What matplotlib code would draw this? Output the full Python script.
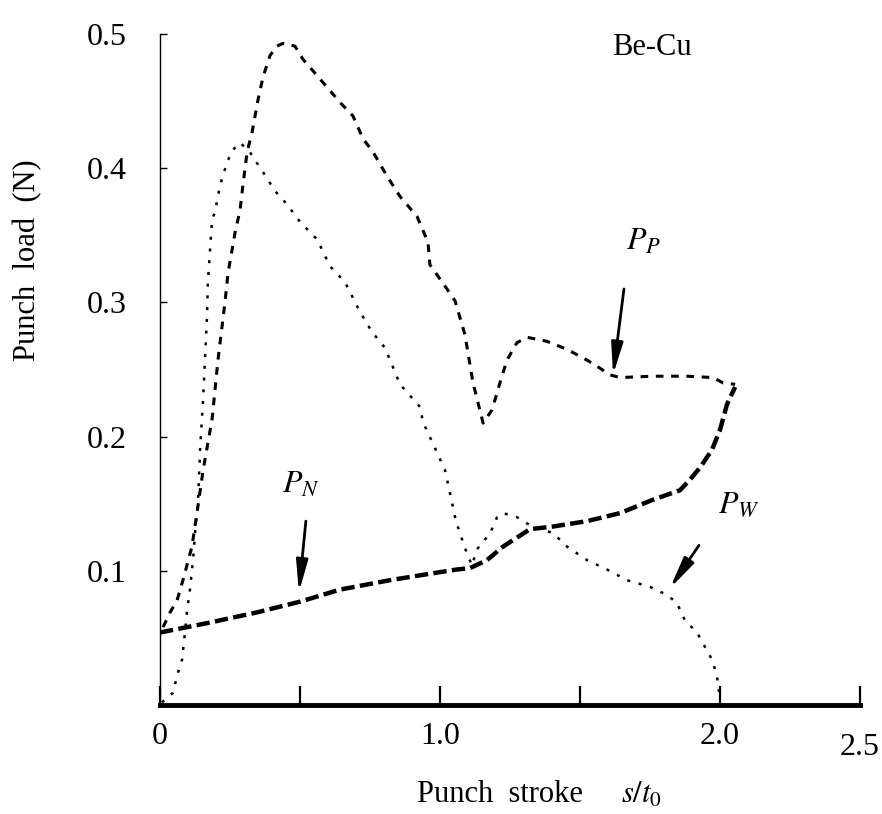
import numpy as np
import matplotlib.pyplot as plt
from matplotlib.transforms import ScaledTranslation

plt.rcParams['font.family'] = ['Liberation Serif', 'DejaVu Serif']
plt.rcParams['mathtext.fontset'] = 'stix'

# Curva de carga alta (pico ~0.49) que continua en la meseta P_P
s_alta = [0.011, 0.036, 0.061, 0.082, 0.114, 0.132, 0.154, 0.186, 0.207, 0.232,
          0.243, 0.268, 0.286, 0.296, 0.311, 0.329, 0.350, 0.368, 0.393, 0.418,
          0.439, 0.482, 0.511, 0.561, 0.643, 0.689, 0.725, 0.761, 0.811, 0.857,
          0.918, 0.957, 0.964, 1.025, 1.054, 1.089, 1.118, 1.154, 1.186, 1.214,
          1.239, 1.275, 1.311, 1.382, 1.454, 1.525, 1.571, 1.607, 1.643, 1.761,
          1.882, 1.975, 2.011, 2.054]
p_alta = [0.058, 0.069, 0.078, 0.093, 0.118, 0.143, 0.175, 0.213, 0.257, 0.300,
          0.322, 0.352, 0.369, 0.387, 0.412, 0.427, 0.451, 0.468, 0.484, 0.491,
          0.493, 0.491, 0.481, 0.469, 0.449, 0.439, 0.422, 0.412, 0.394, 0.379,
          0.364, 0.345, 0.328, 0.310, 0.301, 0.276, 0.240, 0.210, 0.220, 0.240,
          0.257, 0.270, 0.274, 0.271, 0.265, 0.257, 0.251, 0.246, 0.244, 0.245,
          0.245, 0.244, 0.240, 0.239]

# Curva de carga baja (pico ~0.42) con la joroba y la caida P_W
s_baja = [0.007, 0.046, 0.064, 0.079, 0.089, 0.096, 0.107, 0.118, 0.125, 0.136,
          0.143, 0.154, 0.168, 0.171, 0.186, 0.196, 0.214, 0.239, 0.257, 0.286,
          0.311, 0.321, 0.368, 0.411, 0.454, 0.500, 0.561, 0.607, 0.661, 0.714,
          0.757, 0.804, 0.857, 0.929, 0.939, 1.018, 1.057, 1.089, 1.114, 1.132,
          1.179, 1.204, 1.225, 1.275, 1.321, 1.404, 1.454, 1.525, 1.596, 1.668,
          1.750, 1.811, 1.846, 1.875, 1.918, 1.971, 1.989, 2.000]
p_baja = [0.002, 0.009, 0.024, 0.034, 0.054, 0.069, 0.086, 0.108, 0.128, 0.153,
          0.190, 0.228, 0.290, 0.315, 0.362, 0.367, 0.387, 0.404, 0.413, 0.419,
          0.414, 0.412, 0.397, 0.383, 0.373, 0.360, 0.347, 0.327, 0.315, 0.293,
          0.278, 0.266, 0.239, 0.222, 0.211, 0.175, 0.137, 0.117, 0.104, 0.116,
          0.128, 0.140, 0.143, 0.140, 0.134, 0.128, 0.118, 0.108, 0.101, 0.093,
          0.088, 0.082, 0.076, 0.063, 0.054, 0.034, 0.022, 0.004]

# Curva base (P_N) que sube lentamente
s_base = [0.0, 0.168, 0.346, 0.500, 0.643, 0.821, 1.000, 1.061, 1.107, 1.168,
          1.225, 1.321, 1.404, 1.525, 1.643, 1.761, 1.857, 1.893, 1.929, 1.971,
          2.000, 2.025, 2.054]
p_base = [0.054, 0.061, 0.069, 0.077, 0.086, 0.093, 0.099, 0.101, 0.102, 0.108,
          0.118, 0.131, 0.133, 0.137, 0.143, 0.153, 0.160, 0.168, 0.177, 0.190,
          0.205, 0.224, 0.237]

# Flechas: (texto, punta, cola, posicion del texto)
flechas = [
    ('$P_N$', (0.496, 0.084), (0.521, 0.137), (0.436, 0.164)),
    ('$P_P$', (1.618, 0.246), (1.657, 0.310), (1.664, 0.345)),
    ('$P_W$', (1.821, 0.087), (1.925, 0.119), (1.993, 0.149)),
]

fig = plt.figure(figsize=(8.82, 8.14), dpi=100)
ax = fig.add_axes([160 / 882, 1 - 705 / 814, 700 / 882, 671 / 814])

ax.plot(s_base, p_base, color='black', lw=3.2, dashes=(3, 1.2))
ax.plot(s_alta, p_alta, color='black', lw=2.2, dashes=(2.5, 2.5))
ax.plot(s_baja, p_baja, color='black', lw=1.8, dashes=(1.2, 3.5))

for txt, punta, cola, pos in flechas:
    ax.annotate('', xy=punta, xytext=cola,
                arrowprops=dict(arrowstyle='-|>,head_length=1.9,head_width=0.35',
                                color='black', lw=2.0, shrinkA=0, shrinkB=0))
    ax.text(pos[0], pos[1], txt, fontsize=23, ha='left', va='center')

ax.text(1.614, 0.490, 'Be-Cu', fontsize=22, ha='left', va='center')

ax.set_xlim(0, 2.5)
ax.set_ylim(0, 0.5)
ax.spines['top'].set_visible(False)
ax.spines['right'].set_visible(False)
ax.spines['left'].set_linewidth(1.0)
ax.spines['bottom'].set_linewidth(3.5)

ax.set_xticks([0, 0.5, 1.0, 1.5, 2.0, 2.5])
ax.set_xticklabels(['0', '', '1.0', '', '2.0', '2.5'])
ax.set_yticks([0.1, 0.2, 0.3, 0.4, 0.5])
ax.set_yticklabels(['0.1', '0.2', '0.3', '0.4', '0.5'])
ax.tick_params(axis='x', direction='in', length=14, width=1.6, pad=12, labelsize=23)
ax.tick_params(axis='y', direction='in', length=5, width=1.0, pad=24, labelsize=23)

# el 2.5 queda un poco mas abajo
lbl = ax.get_xticklabels()[-1]
lbl.set_transform(lbl.get_transform() + ScaledTranslation(0, -8 / 72, fig.dpi_scale_trans))

fig.text(28 / 882, 1 - 260 / 814, 'Punch  load  (N)', rotation=90, fontsize=22,
         ha='center', va='center')
fig.text(417 / 882, 1 - 795 / 814, 'Punch  stroke', fontsize=22,
         ha='left', va='center')
fig.text(621 / 882, 1 - 795 / 814, r'$\mathit{s/t_0}$', fontsize=22,
         ha='left', va='center')

fig.savefig('out.png', dpi=100)
